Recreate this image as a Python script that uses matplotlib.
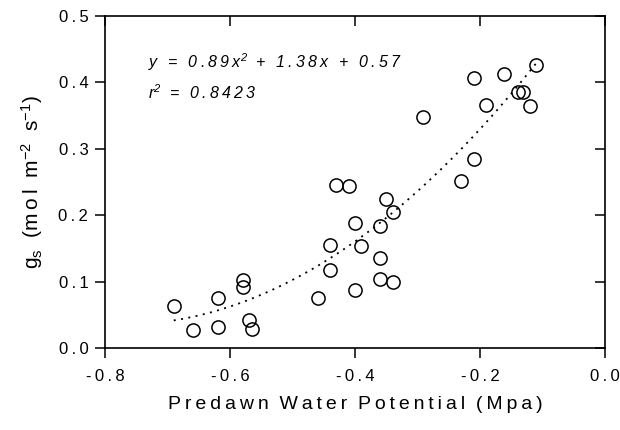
import numpy as np
import matplotlib
matplotlib.use("Agg")
import matplotlib.pyplot as plt
from matplotlib.ticker import FixedLocator, FuncFormatter, NullFormatter

plt.rcParams['font.family'] = ['Liberation Sans', 'DejaVu Sans']
plt.rcParams['mathtext.fontset'] = 'custom'
plt.rcParams['mathtext.rm'] = 'Liberation Sans'
plt.rcParams['mathtext.it'] = 'Liberation Sans:italic'
plt.rcParams['mathtext.default'] = 'regular'

# Data
psi = [-0.690, -0.659, -0.619, -0.619, -0.580, -0.580, -0.570, -0.565,
       -0.460, -0.440, -0.440, -0.430, -0.410, -0.400, -0.400, -0.390,
       -0.360, -0.360, -0.360, -0.350, -0.340, -0.340, -0.230, -0.291,
       -0.210, -0.210, -0.191, -0.161, -0.140, -0.131, -0.120, -0.111]
gs = [0.064, 0.027, 0.075, 0.031, 0.102, 0.092, 0.042, 0.029,
      0.075, 0.155, 0.118, 0.246, 0.244, 0.188, 0.088, 0.154,
      0.183, 0.135, 0.104, 0.224, 0.205, 0.100, 0.252, 0.348,
      0.406, 0.285, 0.366, 0.413, 0.386, 0.386, 0.364, 0.426]

coef = [0.89, 1.38, 0.57]   # quadratic fit coefficients
fit_range = [-0.69, -0.11]

x_ticks = [-0.8, -0.6, -0.4, -0.2, 0.0]
y_ticks = [0.0, 0.1, 0.2, 0.3, 0.4, 0.5]

TS = '\u2009'
def spaced(s):
    return TS.join(s)

fig = plt.figure(figsize=(6.2, 4.3), dpi=100)
rect = [105/620, 82/430, 500/620, 332/430]
ax = fig.add_axes(rect)

ax.plot(psi, gs, linestyle='none', marker='o', markersize=9.5,
        markerfacecolor='none', markeredgecolor='black', markeredgewidth=1.1)

xf = np.linspace(fit_range[0], fit_range[1], 200)
yf = np.polyval(coef, xf)
ax.plot(xf, yf, color='black', linewidth=1.3, linestyle=(0, (1.1, 3.0)))

ax.set_xlim(-0.8, 0.0)
ax.set_ylim(0.0, 0.5)
ax.xaxis.set_major_locator(FixedLocator(x_ticks))
ax.yaxis.set_major_locator(FixedLocator(y_ticks))
ax.xaxis.set_major_formatter(FuncFormatter(lambda v, p: spaced(f"{v:.1f}")))
ax.yaxis.set_major_formatter(FuncFormatter(lambda v, p: spaced(f"{v:.1f}")))

for s in ax.spines.values():
    s.set_linewidth(1.2)
ax.tick_params(axis='both', which='major', direction='out', length=7,
               width=1.1, labelsize=12, pad=5)
ax.tick_params(axis='x', pad=8)

# inward ticks on top and right via minor ticks at the same positions
ax.xaxis.set_minor_locator(FixedLocator(x_ticks))
ax.yaxis.set_minor_locator(FixedLocator(y_ticks))
ax.xaxis.set_minor_formatter(NullFormatter())
ax.yaxis.set_minor_formatter(NullFormatter())
ax.xaxis.remove_overlapping_locs = False
ax.yaxis.remove_overlapping_locs = False
ax.tick_params(which='minor', direction='in', length=7, width=1.1,
               bottom=False, left=False, top=True, right=True, color='black')

ax.set_xlabel(TS.join("Predawn") + '  ' + TS.join("Water") + '  ' + TS.join("Potential") + '  ' + TS.join("(Mpa)"),
              fontsize=14, labelpad=9)
ax.set_ylabel('g$_{s}$  (' + TS.join('mol') + '  m$^{ -2}$  s$^{-1}$)', fontsize=15, labelpad=10)

eq = TS.join('y = 0.89x') + '$^{2}$  ' + TS.join('+ 1.38x + 0.57')
ax.text(0.087, 0.86, eq, transform=ax.transAxes, fontsize=11.5, style='italic',
        ha='left', va='center')
ax.text(0.087, 0.77, 'r$^{2}$  ' + TS.join('= 0.8423'), transform=ax.transAxes,
        fontsize=11.5, style='italic', ha='left', va='center')

fig.savefig('out.png', dpi=100)
